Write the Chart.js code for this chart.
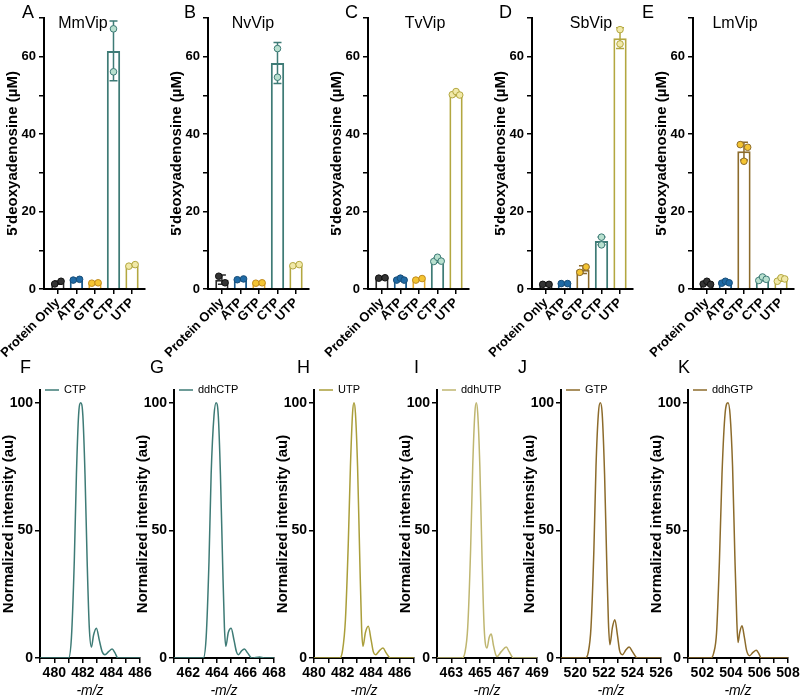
<!DOCTYPE html>
<html>
<head>
<meta charset="utf-8">
<script src="https://cdn.jsdelivr.net/npm/chart.js@4.4.1/dist/chart.umd.min.js"></script>
<style>
  body { margin: 0; background: #fff; width: 800px; height: 700px; position: relative; overflow: hidden;
         font-family: "Liberation Sans", Arial, sans-serif; }
  canvas { position: absolute; }
  .letter { position: absolute; font-size: 18px; line-height: 1; color: #000; }
</style>
</head>
<body>
<script>
// ---- bar panels (A-E) ----
const conditions = ["Protein Only", "ATP", "GTP", "CTP", "UTP"];

const mmVipMean = [1.65, 2.4, 1.55, 61.5, 6.1];
const mmVipSD = [0.4, 0.1, 0.1, 7.7, 0.3];
const mmVipReps = [[1.3, 2.0], [2.3, 2.5], [1.5, 1.6], [67.2, 56.1], [5.9, 6.3]];

const nvVipMean = [2.4, 2.5, 1.55, 58.4, 6.15];
const nvVipSD = [1.2, 0.15, 0.1, 5.3, 0.2];
const nvVipReps = [[3.3, 1.6], [2.4, 2.6], [1.5, 1.6], [62.1, 54.7], [6.0, 6.3]];

const tvVipMean = [2.85, 2.5, 2.5, 7.5, 50.4];
const tvVipSD = [0.1, 0.3, 0.3, 0.6, 0.5];
const tvVipReps = [[2.8, 2.9], [2.3, 2.8, 2.3], [2.3, 2.7], [7.1, 8.2, 7.2], [50.2, 51.0, 50.1]];

const sbVipMean = [1.2, 1.4, 5.0, 12.4, 64.8];
const sbVipSD = [0.05, 0.1, 1.0, 1.0, 2.7];
const sbVipReps = [[1.2, 1.2], [1.4, 1.4], [4.3, 5.7], [13.4, 11.4], [67.0, 63.3]];

const lmVipMean = [1.5, 1.7, 35.6, 2.6, 2.5];
const lmVipSD = [0.4, 0.3, 2.3, 0.5, 0.5];
const lmVipReps = [[1.3, 2.0, 1.2], [1.5, 2.0, 1.6], [37.3, 33.0, 36.6], [2.2, 3.1, 2.5], [2.0, 2.9, 2.6]];

const barTicks = [0, 10, 20, 30, 40, 50, 60, 70];

// ---- mass spectra (F-K) ----
const ctpMz = [479, 480, 481.0, 481.2, 481.4, 481.55, 481.7, 481.85, 482.0, 482.15, 482.3, 482.45, 482.6, 482.75, 482.95, 483.15, 483.35, 483.55, 483.8, 484.05, 484.25, 484.45, 485, 486];
const ctpIntensity = [0, 0, 0, 8, 38, 72, 95, 100, 95, 72, 38, 12, 4.3, 9, 11.7, 7, 2.5, 1.3, 2.5, 3.5, 2, 0, 0, 0];

const ddhCtpMz = [461, 462, 463.05, 463.25, 463.45, 463.6, 463.8, 463.95, 464.1, 464.25, 464.4, 464.53, 464.63, 464.8, 465.0, 465.2, 465.37, 465.51, 465.73, 465.93, 466.15, 466.44, 467.0, 467.3, 468];
const ddhCtpIntensity = [0, 0, 0, 8, 38, 72, 95, 100, 95, 72, 38, 12, 4.6, 10, 11.7, 7, 2.5, 1.3, 2.8, 3.5, 2, 0, 0.4, 0, 0];

const utpMz = [480, 481, 481.8, 482.0, 482.2, 482.4, 482.55, 482.7, 482.8, 482.9, 483.05, 483.2, 483.33, 483.43, 483.6, 483.8, 484.0, 484.15, 484.32, 484.6, 484.83, 485.05, 485.36, 486, 487];
const utpIntensity = [0, 0, 0, 3, 15, 45, 75, 96, 100, 96, 75, 40, 12, 4.6, 10, 12.4, 7, 2.5, 1.3, 3, 3.9, 2, 0, 0, 0];

const ddhUtpMz = [462, 463, 463.75, 463.95, 464.15, 464.35, 464.5, 464.65, 464.75, 464.85, 465.0, 465.15, 465.3, 465.5, 465.65, 465.8, 465.95, 466.1, 466.2, 466.5, 466.85, 467.05, 467.35, 468, 469];
const ddhUtpIntensity = [0, 0, 0, 2, 12, 42, 75, 96, 100, 96, 75, 40, 12, 3.9, 8, 9.4, 5, 1.5, 0.6, 2.5, 4.3, 2.5, 0, 0, 0];

const gtpMz = [519, 520, 520.7, 520.9, 521.1, 521.3, 521.45, 521.62, 521.75, 521.88, 522.05, 522.2, 522.32, 522.42, 522.6, 522.77, 522.95, 523.1, 523.3, 523.55, 523.77, 524.0, 524.35, 525, 526];
const gtpIntensity = [0, 0, 0, 2, 12, 42, 75, 96, 100, 96, 72, 38, 14, 5.2, 12, 15, 9, 3, 1.3, 3.2, 4.3, 2.5, 0, 0, 0];

const ddhGtpMz = [501, 502, 502.6, 502.8, 503.0, 503.2, 503.38, 503.6, 503.8, 503.95, 504.12, 504.28, 504.42, 504.5, 504.62, 504.78, 504.95, 505.1, 505.31, 505.55, 505.78, 505.95, 506.13, 507, 508];
const ddhGtpIntensity = [0, 0, 0, 2, 10, 38, 72, 96, 100, 95, 75, 40, 14, 6.1, 10, 12.6, 8, 3, 0.9, 2.2, 3, 1.8, 0, 0, 0];

const specTicks = [0, 50, 100];

// ---- styling ----
const FONT = '"Liberation Sans", Arial, sans-serif';
Chart.defaults.font.family = FONT;
Chart.defaults.color = "#000";

const barBorder = ["#2a2a2a", "#1d5c8c", "#e3ab2d", "#3e7b76", "#b3a740"];
const dotFill = ["#333333", "#1f6aa5", "#f4c432", "#b8e0cf", "#f1e9a8"];
const dotBorder = ["#111111", "#174d78", "#c08a1c", "#3e7b76", "#b3a740"];
const gtpBrown = "#8c6b2b";

function letter(ch, x, y) {
  const d = document.createElement("div");
  d.className = "letter";
  d.textContent = ch;
  d.style.left = x + "px";
  d.style.top = y + "px";
  document.body.appendChild(d);
}

function makeCanvas(left, top, w, h) {
  const c = document.createElement("canvas");
  c.width = w;
  c.height = h;
  c.style.left = left + "px";
  c.style.top = top + "px";
  document.body.appendChild(c);
  return c;
}

/* error bars drawn right after the bars, so the replicate dots sit on top */
const errorBars = {
  id: "errorBars",
  afterDatasetDraw(chart, args) {
    const ds = chart.data.datasets[args.index];
    if (!ds.errors) return;
    const ctx = chart.ctx;
    const x = chart.scales.x, y = chart.scales.y;
    ctx.save();
    ctx.lineWidth = 1.5;
    ds.data.forEach((d, i) => {
      const px = x.getPixelForValue(d.x);
      const top = y.getPixelForValue(d.y + ds.errors[i]);
      const bot = y.getPixelForValue(Math.max(0, d.y - ds.errors[i]));
      ctx.strokeStyle = ds.borderColor[i];
      ctx.beginPath();
      ctx.moveTo(px, top); ctx.lineTo(px, bot);
      ctx.moveTo(px - 4, top); ctx.lineTo(px + 4, top);
      ctx.moveTo(px - 4, bot); ctx.lineTo(px + 4, bot);
      ctx.stroke();
    });
    ctx.restore();
  }
};

const panelTitle = {
  id: "panelTitle",
  afterDraw(chart, args, opts) {
    if (!opts.text) return;
    const ctx = chart.ctx;
    ctx.save();
    ctx.font = "16px " + FONT;
    ctx.fillStyle = "#000";
    ctx.textAlign = "center";
    ctx.textBaseline = "middle";
    ctx.fillText(opts.text, chart.chartArea.left + opts.dx, chart.chartArea.top + 6);
    ctx.restore();
  }
};

const spectrumKey = {
  id: "spectrumKey",
  afterDraw(chart) {
    const ds = chart.data.datasets[0];
    if (!ds || !ds.keyLabel) return;
    const ctx = chart.ctx;
    const a = chart.chartArea;
    ctx.save();
    ctx.strokeStyle = ds.borderColor;
    ctx.lineWidth = 1.5;
    ctx.beginPath();
    ctx.moveTo(a.left + 5, a.top);
    ctx.lineTo(a.left + 19, a.top);
    ctx.stroke();
    ctx.font = "11px " + FONT;
    ctx.fillStyle = "#000";
    ctx.textBaseline = "middle";
    ctx.fillText(ds.keyLabel, a.left + 24, a.top);
    ctx.restore();
  }
};

Chart.register(errorBars, panelTitle, spectrumKey);

// simple swarm: two close replicates sit side by side, far ones share the centre
function swarm(reps) {
  if (reps.length === 3) return [-0.2, 0, 0.2];
  if (reps.length === 2) return Math.abs(reps[0] - reps[1]) < 2 ? [-0.17, 0.17] : [0, 0];
  return reps.map(() => 0);
}

function barPanel(p) {
  const canvas = makeCanvas(p.axisX - 60, 0, 60 + 101 + 8, 375);
  const border = barBorder.map((c, i) => (i === 2 && p.brownGtp ? gtpBrown : c));
  const pts = [], fills = [], strokes = [];
  p.reps.forEach((r, i) => {
    const offs = swarm(r);
    r.forEach((v, j) => {
      pts.push({ x: i + offs[j], y: v });
      fills.push(dotFill[i]);
      strokes.push(i === 2 && p.brownGtp ? gtpBrown : dotBorder[i]);
    });
  });

  new Chart(canvas, {
    type: "bar",
    data: {
      datasets: [
        {
          type: "bar",
          data: p.mean.map((v, i) => ({ x: i, y: v })),
          backgroundColor: "#ffffff",
          borderColor: border,
          borderWidth: 2,
          barPercentage: 0.72,
          categoryPercentage: 1,
          errors: p.sd,
          order: 2
        },
        {
          type: "scatter",
          data: pts,
          pointRadius: 3.3,
          pointBackgroundColor: fills,
          pointBorderColor: strokes,
          pointBorderWidth: 1,
          order: 1
        }
      ]
    },
    options: {
      responsive: false,
      devicePixelRatio: 1,
      animation: false,
      layout: { padding: { left: 20, top: 18, right: 8, bottom: 0 } },
      plugins: {
        legend: { display: false },
        tooltip: { enabled: false },
        panelTitle: { text: p.name, dx: p.titleDx }
      },
      scales: {
        x: {
          type: "linear",
          min: -0.75,
          max: 4.7,
          offset: false,
          afterBuildTicks: s => { s.ticks = conditions.map((c, i) => ({ value: i })); },
          afterFit: s => { s.height = 86; s.paddingLeft = 0; s.paddingRight = 0; },
          ticks: {
            autoSkip: false,
            minRotation: 45,
            maxRotation: 45,
            padding: 1,
            color: "#000",
            font: { weight: "bold", size: 13 },
            callback: v => conditions[v]
          },
          grid: { offset: false, drawOnChartArea: false, tickLength: 5, color: "#000", lineWidth: 1.5 },
          border: { color: "#000", width: 2 }
        },
        y: {
          min: 0,
          max: 70,
          afterBuildTicks: s => { s.ticks = barTicks.map(v => ({ value: v })); },
          afterFit: s => { s.width = 40; s.paddingTop = 0; s.paddingBottom = 0; },
          ticks: {
            padding: 3,
            color: "#000",
            font: { weight: "bold", size: 13 },
            callback: v => (v % 20 === 0 ? v : "")
          },
          grid: { drawOnChartArea: false, tickLength: 5, color: "#000", lineWidth: 1.5 },
          border: { color: "#000", width: 2 },
          title: {
            display: true,
            text: "5'deoxyadenosine (µM)",
            color: "#000",
            padding: { top: 0, bottom: 0 },
            font: { weight: "bold", size: 15 }
          }
        }
      }
    }
  });
}

function spectrumPanel(p) {
  const canvas = makeCanvas(p.axisX - 50, 370, 50 + 100 + 14, 330);
  const xTicks = [];
  for (let v = p.min; v <= p.max; v++) xTicks.push({ value: v });

  new Chart(canvas, {
    type: "line",
    data: {
      datasets: [{
        keyLabel: p.name,
        data: p.mz.map((m, i) => ({ x: m, y: p.intensity[i] })),
        borderColor: p.color,
        borderWidth: 1.5,
        pointRadius: 0,
        fill: false,
        cubicInterpolationMode: "monotone"
      }]
    },
    options: {
      responsive: false,
      devicePixelRatio: 1,
      animation: false,
      layout: { padding: { left: 10, top: 20, right: 14, bottom: 0 } },
      plugins: { legend: { display: false }, tooltip: { enabled: false } },
      scales: {
        x: {
          type: "linear",
          min: p.min,
          max: p.max,
          afterBuildTicks: s => { s.ticks = xTicks.slice(); },
          afterFit: s => { s.height = 42; s.paddingLeft = 0; s.paddingRight = 0; },
          ticks: {
            maxRotation: 0,
            autoSkip: false,
            padding: 2,
            color: "#000",
            font: { weight: "bold", size: 14 },
            callback: v => ((v - p.labelFrom) % 2 === 0 ? v : "")
          },
          grid: { drawOnChartArea: false, tickLength: 5, color: "#000", lineWidth: 1.5 },
          border: { color: "#000", width: 2 },
          title: {
            display: true,
            text: "-m/z",
            color: "#000",
            padding: { top: 1, bottom: 0 },
            font: { style: "italic", size: 14 }
          }
        },
        y: {
          min: 0,
          max: 105,
          afterBuildTicks: s => { s.ticks = specTicks.map(v => ({ value: v })); },
          afterFit: s => { s.width = 40; s.paddingTop = 0; s.paddingBottom = 0; },
          ticks: { padding: 2, color: "#000", font: { weight: "bold", size: 14 } },
          grid: { drawOnChartArea: false, tickLength: 5, color: "#000", lineWidth: 1.5 },
          border: { color: "#000", width: 2 },
          title: {
            display: true,
            text: "Normalized intensity (au)",
            color: "#000",
            padding: { top: 0, bottom: 0 },
            font: { weight: "bold", size: 15 }
          }
        }
      }
    }
  });
}

barPanel({ name: "MmVip", axisX: 44, titleDx: 39, mean: mmVipMean, sd: mmVipSD, reps: mmVipReps });
barPanel({ name: "NvVip", axisX: 208, titleDx: 45, mean: nvVipMean, sd: nvVipSD, reps: nvVipReps });
barPanel({ name: "TvVip", axisX: 368, titleDx: 57, mean: tvVipMean, sd: tvVipSD, reps: tvVipReps });
barPanel({ name: "SbVip", axisX: 532, titleDx: 59, mean: sbVipMean, sd: sbVipSD, reps: sbVipReps, brownGtp: true });
barPanel({ name: "LmVip", axisX: 693, titleDx: 42, mean: lmVipMean, sd: lmVipSD, reps: lmVipReps, brownGtp: true });

spectrumPanel({ name: "CTP", axisX: 40, min: 479, max: 486, labelFrom: 480, mz: ctpMz, intensity: ctpIntensity, color: "#3e7b76" });
spectrumPanel({ name: "ddhCTP", axisX: 174, min: 461, max: 468, labelFrom: 462, mz: ddhCtpMz, intensity: ddhCtpIntensity, color: "#3e7b76" });
spectrumPanel({ name: "UTP", axisX: 314, min: 480, max: 487, labelFrom: 480, mz: utpMz, intensity: utpIntensity, color: "#aa9e3a" });
spectrumPanel({ name: "ddhUTP", axisX: 437, min: 462, max: 469, labelFrom: 463, mz: ddhUtpMz, intensity: ddhUtpIntensity, color: "#bfb670" });
spectrumPanel({ name: "GTP", axisX: 561, min: 519, max: 526, labelFrom: 520, mz: gtpMz, intensity: gtpIntensity, color: "#8c6b2b" });
spectrumPanel({ name: "ddhGTP", axisX: 688, min: 501, max: 508, labelFrom: 502, mz: ddhGtpMz, intensity: ddhGtpIntensity, color: "#8c6b2b" });

letter("A", 22, 3); letter("B", 184, 3); letter("C", 345, 3); letter("D", 499, 3); letter("E", 642, 3);
letter("F", 20, 358); letter("G", 150, 358); letter("H", 297, 358); letter("I", 414, 358); letter("J", 518, 358); letter("K", 678, 358);
</script>
</body>
</html>
